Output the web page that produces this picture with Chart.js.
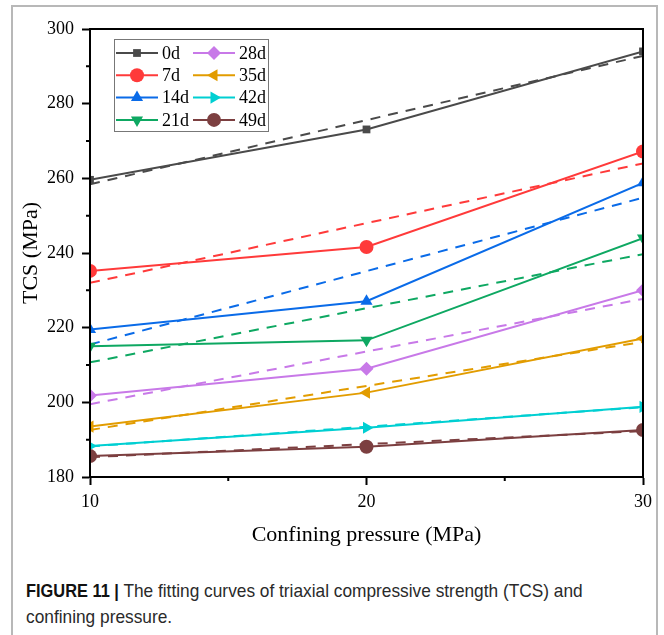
<!DOCTYPE html>
<html>
<head>
<meta charset="utf-8">
<script src="https://cdn.jsdelivr.net/npm/chart.js@4/dist/chart.umd.min.js"></script>
<style>
  body { margin: 0; background: #fff; }
  #frame { position: absolute; left: 11px; top: 5px; width: 647px; height: 640px; border: 2px solid #b8b8b8; box-sizing: border-box; }
  #wrap { position: absolute; left: 0; top: 0; width: 664px; height: 565px; }
  #caption { position: absolute; left: 26px; top: 578px; white-space: nowrap; font-family: "Liberation Sans", Arial, sans-serif; font-size: 19px; line-height: 26px; color: #2a2a2a; transform: scaleX(0.91); transform-origin: left top; }
  #caption b { font-size: 18px; color: #111; }
</style>
</head>
<body>
<div id="frame"></div>
<div id="wrap"><canvas id="myChart"></canvas></div>
<div id="caption"><b>FIGURE 11 |</b> The fitting curves of triaxial compressive strength (TCS) and<br>confining pressure.</div>
<script>
var pressure = [10, 20, 30];
var fitEnds = [10, 30];
var ages = ['0d', '7d', '14d', '21d', '28d', '35d', '42d', '49d'];

var tcs0 = [259.6, 273.1, 294.0];
var tcs7 = [235.2, 241.6, 267.2];
var tcs14 = [219.5, 227.1, 258.8];
var tcs21 = [215.0, 216.6, 244.0];
var tcs28 = [201.8, 209.0, 230.0];
var tcs35 = [193.5, 202.6, 217.1];
var tcs42 = [188.3, 193.2, 198.8];
var tcs49 = [185.6, 188.1, 192.6];

// fitted line end values (x = 10 and x = 30)
var fit0 = [258.4, 292.8];
var fit7 = [232.0, 264.0];
var fit14 = [215.5, 254.8];
var fit21 = [210.7, 239.7];
var fit28 = [199.5, 227.7];
var fit35 = [192.6, 216.2];
var fit42 = [188.2, 198.7];
var fit49 = [185.3, 192.3];

var colors = ['#4a4a4a', '#ff3a3a', '#0a6be8', '#0ea862', '#c879e8', '#e29c00', '#00cfd2', '#7c3f40'];
var styles = ['rect', 'circle', 'triangle', 'triangle', 'rectRot', 'triangle', 'triangle', 'circle'];
var rotations = [0, 0, 0, 180, 0, -90, 90, 0];

var measured = [tcs0, tcs7, tcs14, tcs21, tcs28, tcs35, tcs42, tcs49];
var fits = [fit0, fit7, fit14, fit21, fit28, fit35, fit42, fit49];

var datasets = [];
measured.forEach(function (vals, i) {
  datasets.push({
    label: ages[i],
    data: pressure.map(function (p, j) { return { x: p, y: vals[j] }; }),
    borderColor: colors[i],
    backgroundColor: colors[i],
    borderWidth: 2,
    pointStyle: styles[i],
    pointRotation: rotations[i],
    pointRadius: styles[i] === 'rect' ? 5.5 : 7,
    pointBorderWidth: 0,
    clip: 0
  });
});
fits.forEach(function (vals, i) {
  datasets.push({
    label: ages[i] + ' fit',
    data: fitEnds.map(function (p, j) { return { x: p, y: vals[j] }; }),
    borderColor: colors[i],
    borderWidth: 2,
    borderDash: [10, 8],
    pointRadius: 0,
    clip: 0
  });
});

var serif = 'Liberation Serif';

var boxPlugin = {
  id: 'boxAndMinor',
  beforeDatasetsDraw: function (chart) {
    var c = chart.ctx, a = chart.chartArea;
    c.save();
    c.beginPath();
    c.rect(a.left, a.top, a.right - a.left, a.bottom - a.top);
    c.clip();
  },
  afterDatasetsDraw: function (chart) {
    var c = chart.ctx, a = chart.chartArea;
    c.restore();
    c.save();
    c.strokeStyle = '#000';
    c.lineWidth = 2;
    c.strokeRect(a.left, a.top, a.right - a.left, a.bottom - a.top);
    // minor ticks halfway between major ticks
    var xs = chart.scales.x, ys = chart.scales.y;
    c.beginPath();
    for (var i = 0; i < xs.ticks.length - 1; i++) {
      var px = xs.getPixelForValue((xs.ticks[i].value + xs.ticks[i + 1].value) / 2);
      c.moveTo(px, a.bottom);
      c.lineTo(px, a.bottom + 4);
    }
    for (var k = 0; k < ys.ticks.length - 1; k++) {
      var py = ys.getPixelForValue((ys.ticks[k].value + ys.ticks[k + 1].value) / 2);
      c.moveTo(a.left, py);
      c.lineTo(a.left - 4, py);
    }
    c.stroke();

    // legend box inside the plot, two columns of four
    var lx = a.left + 24, ly = a.top + 10, lw = 154, lh = 92;
    c.fillStyle = '#fff';
    c.fillRect(lx, ly, lw, lh);
    c.strokeStyle = '#777';
    c.lineWidth = 1;
    c.strokeRect(lx + 0.5, ly + 0.5, lw, lh);
    c.font = '18px "' + serif + '"';
    c.textBaseline = 'middle';
    ages.forEach(function (age, i) {
      var col = Math.floor(i / 4), row = i % 4;
      var x0 = lx + 2 + col * 77, y0 = ly + 14 + row * 22.3;
      c.strokeStyle = colors[i];
      c.lineWidth = 2;
      c.beginPath();
      c.moveTo(x0, y0);
      c.lineTo(x0 + 42, y0);
      c.stroke();
      c.fillStyle = colors[i];
      Chart.helpers.drawPoint(c, {
        pointStyle: styles[i],
        rotation: rotations[i],
        radius: styles[i] === 'rect' ? 5.5 : 7,
        borderWidth: 0
      }, x0 + 21, y0);
      c.fillStyle = '#000';
      c.textAlign = 'left';
      c.fillText(age, x0 + 46, y0 + 1);
    });
    c.restore();
  }
};

var ctx = document.getElementById('myChart').getContext('2d');
var myChart = new Chart(ctx, {
  type: 'line',
  data: { datasets: datasets },
  plugins: [boxPlugin],
  options: {
    responsive: true,
    maintainAspectRatio: false,
    animation: false,
    layout: { padding: { top: 29, right: 21, left: 0, bottom: 0 } },
    plugins: {
      legend: { display: false },
      tooltip: { enabled: false }
    },
    scales: {
      x: {
        type: 'linear',
        min: 10,
        max: 30,
        afterFit: function (scale) { scale.height = 88; },
        ticks: {
          stepSize: 10,
          color: '#000',
          padding: 6,
          font: { family: serif, size: 18 }
        },
        grid: { drawOnChartArea: false, tickLength: 8, tickColor: '#000', tickWidth: 2 },
        border: { display: true, color: '#000', width: 2 },
        title: {
          display: true,
          text: 'Confining pressure (MPa)',
          color: '#000',
          font: { family: serif, size: 22 },
          padding: { top: 0, bottom: 17 }
        }
      },
      y: {
        min: 180,
        max: 300,
        afterFit: function (scale) { scale.width = 90; },
        ticks: {
          stepSize: 20,
          color: '#000',
          padding: 8,
          font: { family: serif, size: 18 }
        },
        grid: { drawOnChartArea: false, tickLength: 8, tickColor: '#000', tickWidth: 2 },
        border: { display: true, color: '#000', width: 2 },
        title: {
          display: true,
          text: 'TCS (MPa)',
          color: '#000',
          font: { family: serif, size: 22 },
          padding: { top: 18, bottom: 0 }
        }
      }
    }
  }
});
</script>
</body>
</html>
